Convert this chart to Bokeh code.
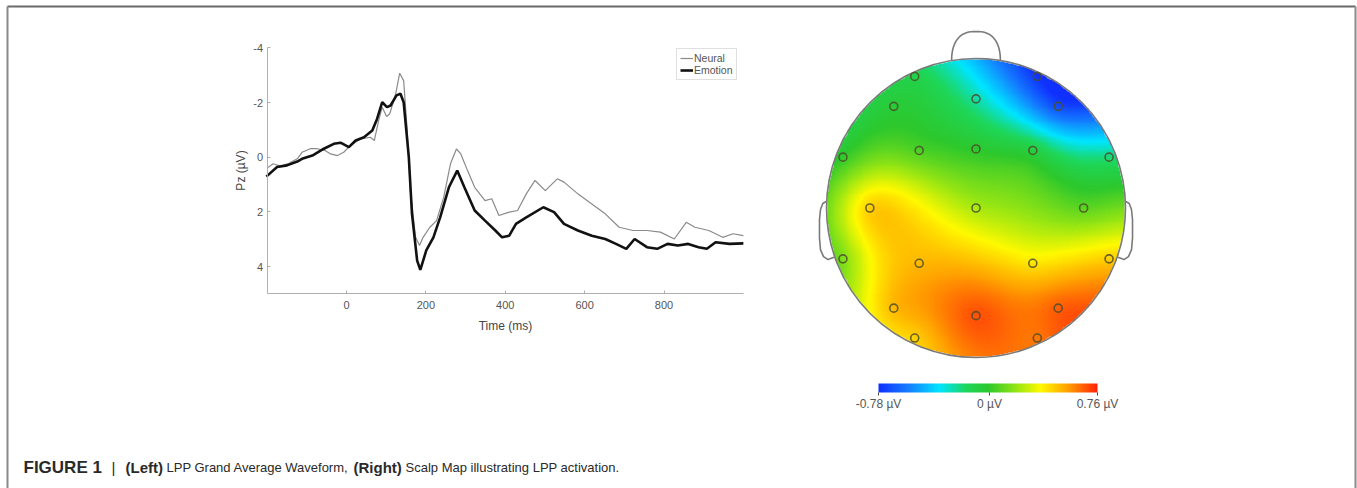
import numpy as np
from bokeh.plotting import figure
from bokeh.models import Range1d, FixedTicker, LinearColorMapper
from bokeh.core.properties import value
from bokeh.embed import file_html
from bokeh.resources import INLINE

# ---------------- data ----------------
t_emotion = [-202, -175, -150, -124, -112, -86, -57, -32, -15, 6, 23, 44, 65, 77, 90, 102, 111, 126, 136, 144,
             157, 165, 178, 186, 201, 219, 236, 258, 279, 297, 323, 349, 375, 392, 410, 427, 453, 496, 523,
             548, 583, 618, 652, 679, 705, 726, 757, 783, 809, 835, 861, 887, 908, 930, 965, 1000]
v_emotion = [0.71, 0.36, 0.30, 0.16, 0.06, -0.06, -0.31, -0.49, -0.53, -0.37, -0.61, -0.73, -0.98, -1.40, -2.01,
             -1.83, -1.89, -2.26, -2.32, -2.01, 0.0, 2.07, 3.78, 4.12, 3.41, 2.93, 2.20, 1.10, 0.49, 1.10, 1.95,
             2.32, 2.68, 2.93, 2.87, 2.44, 2.20, 1.83, 2.01, 2.44, 2.68, 2.87, 2.99, 3.17, 3.35, 2.99, 3.29,
             3.35, 3.17, 3.23, 3.17, 3.29, 3.35, 3.11, 3.17, 3.15]
t_neural = [-200, -185, -166, -145, -124, -112, -91, -74, -53, -40, -23, -7, 10, 35, 60, 70, 81, 90, 101, 109,
            124, 134, 144, 153, 161, 174, 184, 193, 210, 227, 245, 262, 277, 288, 305, 323, 349, 366, 384, 410,
            431, 453, 475, 501, 531, 548, 583, 618, 652, 687, 722, 757, 791, 826, 856, 878, 913, 948, 974, 1000]
v_neural = [0.40, 0.24, 0.32, 0.22, 0.06, -0.18, -0.31, -0.31, -0.24, -0.12, -0.06, -0.18, -0.43, -0.67, -0.73,
            -0.61, -1.34, -1.83, -1.49, -1.59, -2.32, -3.07, -2.80, -0.98, 1.22, 2.92, 3.23, 2.93, 2.56, 2.32,
            1.46, 0.24, -0.30, -0.12, 0.49, 1.10, 1.59, 1.52, 2.13, 2.01, 1.95, 1.34, 0.85, 1.22, 0.79, 0.91,
            1.34, 1.71, 2.07, 2.56, 2.68, 2.68, 2.74, 2.99, 2.38, 2.56, 2.68, 2.93, 2.80, 2.87]
x_ticks = [0, 200, 400, 600, 800]
y_ticks = [-4, -2, 0, 2, 4]
y_tick_labels = ["-4", "-2", "0", "2", "4"]
t_limits = (-200, 1000)
v_limits = (-4, 5)

# electrode positions (head units, nose up) and values (µV)
elec_x = [-0.41, 0.41, 0.0, -0.55, 0.55, -0.89, -0.38, 0.0, 0.38, 0.89, -0.71, 0.0, 0.72,
          -0.89, -0.38, 0.38, 0.89, -0.55, 0.0, 0.55, -0.41, 0.41]
elec_y = [0.88, 0.88, 0.73, 0.68, 0.68, 0.34, 0.385, 0.395, 0.385, 0.34, 0.0, 0.0, 0.0,
          -0.34, -0.37, -0.37, -0.34, -0.67, -0.72, -0.67, -0.87, -0.87]
elec_v = [-0.12, -0.76, -0.25, -0.05, -0.70, 0.0, 0.05, -0.02, -0.08, -0.2, 0.45, 0.22, 0.08,
          0.15, 0.5, 0.4, 0.45, 0.5, 0.68, 0.66, 0.45, 0.62]
cbar_low, cbar_high = -0.78, 0.76
cbar_ticks = [-0.78, 0.0, 0.76]
cbar_labels = ["-0.78 µV", "0 µV", "0.76 µV"]

caption_parts = ["FIGURE 1", "|", "(Left)", "LPP Grand Average Waveform,", "(Right)",
                 "Scalp Map illustrating LPP activation."]
caption_bold = [True, False, True, False, True, False]

FONT = "Liberation Sans"
W, H = 1357, 488

# pixel geometry of the waveform panel (page px)
X0PX, PX_PER_MS = 346.0, 317.5 / 800.0
Y0PX, PX_PER_UV = 156.7, 27.35
# scalp geometry (page px)
CX, CY, S = 975.5, 207.5, 149.5

p = figure(width=W, height=H, toolbar_location=None, output_backend="svg", min_border=0,
           x_range=Range1d((0 - X0PX) / PX_PER_MS, (W - X0PX) / PX_PER_MS),
           y_range=Range1d((H - Y0PX) / PX_PER_UV, (0 - Y0PX) / PX_PER_UV))
p.extra_x_ranges = {"hx": Range1d((0 - CX) / S, (W - CX) / S), "px": Range1d(0, W)}
p.extra_y_ranges = {"hy": Range1d((CY - H) / S, CY / S), "py": Range1d(H, 0)}
p.outline_line_color = None
p.grid.visible = False
p.background_fill_color = "white"
p.border_fill_color = "white"

# outer frame
p.segment(x0=[7, 7, 1355], y0=[6, 6, 6], x1=[1355, 7, 1355], y1=[6, H, H],
          line_color=["#6a6a6a", "#8a8a8a", "#8a8a8a"], line_width=2,
          x_range_name="px", y_range_name="py")

# ---------------- waveform ----------------
p.line(t_neural, v_neural, line_color="#8a8a8a", line_width=1.2, legend_label="Neural")
p.line(t_emotion, v_emotion, line_color="#111111", line_width=2.6, legend_label="Emotion")
p.xaxis.fixed_location = v_limits[1]
p.yaxis.fixed_location = t_limits[0]
p.xaxis.bounds = t_limits
p.yaxis.bounds = v_limits
p.xaxis.ticker = FixedTicker(ticks=x_ticks)
p.yaxis.ticker = FixedTicker(ticks=y_ticks)
p.yaxis.major_label_overrides = dict(zip(y_ticks, y_tick_labels))
for ax in (p.xaxis, p.yaxis):
    ax.axis_line_color = "#b0b0b0"
    ax.major_tick_line_color = "#b0b0b0"
    ax.major_tick_in = 3
    ax.major_tick_out = 0
    ax.minor_tick_line_color = None
    ax.major_label_text_font = FONT
    ax.major_label_text_font_size = "11px"
    ax.major_label_text_color = "#555555"
    ax.axis_label_text_font = FONT
    ax.axis_label_text_font_size = "12px"
    ax.axis_label_text_font_style = "normal"
    ax.axis_label_text_color = "#444444"
p.xaxis.axis_label = "Time (ms)"
p.yaxis.axis_label = "Pz (µV)"
p.xaxis.major_label_standoff = 7
p.yaxis.major_label_standoff = 4
p.xaxis.axis_label_standoff = 7
p.yaxis.axis_label_standoff = 3

lg = p.legend[0]
lg.location = (676, H - 80)
lg.margin = 0
lg.padding = 3
lg.spacing = 0
lg.glyph_width = 13
lg.glyph_height = 12
lg.label_height = 12
lg.label_standoff = 1
lg.label_text_font = FONT
lg.label_text_font_size = "10.5px"
lg.label_text_color = "#555555"
lg.border_line_color = "#c0c0c0"
lg.background_fill_alpha = 1.0

# ---------------- scalp map ----------------
stops = [(0.0, (16, 48, 255)), (0.14, (20, 130, 255)), (0.28, (0, 230, 255)), (0.40, (30, 215, 90)),
         (0.5, (45, 200, 45)), (0.63, (150, 230, 20)), (0.74, (255, 250, 0)), (0.86, (255, 165, 0)),
         (1.0, (255, 35, 10))]
fr = np.linspace(0, 1, 256)
sp = np.array([s[0] for s in stops])
cols = np.array([s[1] for s in stops], dtype=float)
pal = ["#%02x%02x%02x" % tuple(int(np.interp(f, sp, cols[:, k])) for k in range(3)) for f in fr]
mapper = LinearColorMapper(palette=pal, low=cbar_low, high=cbar_high, nan_color="rgba(0,0,0,0)")

# thin-plate spline interpolation of electrode values
ex, ey, ev = np.array(elec_x), np.array(elec_y), np.array(elec_v)
n = len(ex)
def tps(r):
    with np.errstate(divide="ignore", invalid="ignore"):
        out = r * r * np.log(r)
    return np.nan_to_num(out)
D = np.hypot(ex[:, None] - ex[None, :], ey[:, None] - ey[None, :])
Pm = np.column_stack([np.ones(n), ex, ey])
A = np.zeros((n + 3, n + 3))
A[:n, :n] = tps(D); A[:n, n:] = Pm; A[n:, :n] = Pm.T
sol = np.linalg.solve(A, np.concatenate([ev, np.zeros(3)]))
w, a = sol[:n], sol[n:]
N = 320
g = np.linspace(-1, 1, N)
GX, GY = np.meshgrid(g, g)
Z = a[0] + a[1] * GX + a[2] * GY
for i in range(n):
    Z = Z + w[i] * tps(np.hypot(GX - ex[i], GY - ey[i]))
Z = np.clip(Z, cbar_low, cbar_high)
Z[GX ** 2 + GY ** 2 > 1.0] = np.nan
p.image(image=[Z], x=-1, y=-1, dw=2, dh=2, color_mapper=mapper, x_range_name="hx", y_range_name="hy")

head_col = "#7a7a7a"
p.circle(x=[0], y=[0], radius=1, fill_color=None, line_color=head_col, line_width=1.6,
         x_range_name="hx", y_range_name="hy")
tt = np.linspace(0, np.pi, 60)
nx = 0.163 * np.sign(np.cos(tt)) * np.abs(np.cos(tt)) ** 0.75
ny = 0.985 + 0.195 * np.sin(tt) ** 0.9
p.line(nx, ny, line_color=head_col, line_width=1.6, x_range_name="hx", y_range_name="hy")
ear_x = np.array([-0.999, -1.025, -1.040, -1.047, -1.047, -1.04, -1.02, -0.99, -0.95])
ear_y = np.array([0.045, 0.03, -0.01, -0.08, -0.20, -0.28, -0.325, -0.345, -0.33])
p.line(ear_x, ear_y, line_color=head_col, line_width=1.6, x_range_name="hx", y_range_name="hy")
p.line(-ear_x, ear_y, line_color=head_col, line_width=1.6, x_range_name="hx", y_range_name="hy")
p.scatter(elec_x, elec_y, marker="circle", size=8, fill_color=None,
          line_color="#4d4d2a", line_width=1.6, line_alpha=0.85, x_range_name="hx", y_range_name="hy")

# colour bar (page px geometry)
BX0, BX1, BYT, BYB = 878, 1097, 383, 392
bar = np.linspace(cbar_low, cbar_high, 256)[np.newaxis, :]
p.image(image=[bar], x=BX0, y=BYT, dw=BX1 - BX0, dh=BYB - BYT, color_mapper=mapper,
        x_range_name="px", y_range_name="py")
tick_x = [BX0 + (v - cbar_low) / (cbar_high - cbar_low) * (BX1 - BX0) for v in cbar_ticks]
p.segment(x0=tick_x, y0=[BYB] * 3, x1=tick_x, y1=[BYB + 3] * 3, line_color="#444444", line_width=1,
          x_range_name="px", y_range_name="py")
p.text(x=tick_x, y=[403] * 3, text=cbar_labels, text_align="center", text_baseline="middle",
       text_font=value(FONT), text_font_size="12px", text_color="#555555",
       x_range_name="px", y_range_name="py")

# ---------------- caption ----------------
cap_x = [23, 111, 125, 166, 353, 405]
cap_size = ["17px", "15px", "15px", "13px", "15px", "13px"]
for txt, xb, bold, fs in zip(caption_parts, cap_x, caption_bold, cap_size):
    p.text(x=[xb], y=[467], text=[txt], text_align="left", text_baseline="middle",
           text_font=value(FONT), text_font_size=fs,
           text_font_style="bold" if bold else "normal", text_color="#2a2a2a",
           x_range_name="px", y_range_name="py")

open("out.html", "w").write(file_html(p, INLINE))
